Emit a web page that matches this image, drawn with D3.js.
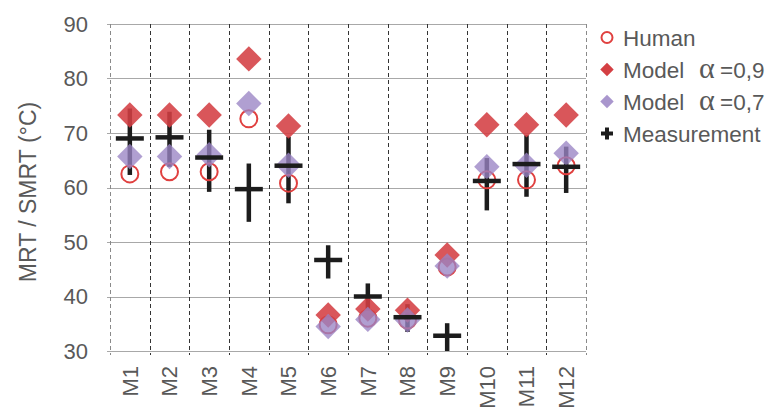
<!DOCTYPE html>
<html><head><meta charset="utf-8">
<script src="https://cdn.jsdelivr.net/npm/d3@7"></script>
<style>
html,body{margin:0;padding:0;background:#fff;}
svg{display:block;font-family:Arial,"Liberation Sans",sans-serif;}
</style></head>
<body>
<svg id="chart" width="772" height="410"></svg>
<script>
const categories = ["M1","M2","M3","M4","M5","M6","M7","M8","M9","M10","M11","M12"];
const human   = [62.5, 62.9, 62.9, 72.6, 60.8, 34.8, 36.0, 35.7, 45.4, 61.4, 61.4, 64.0];
const model09 = [73.3, 73.3, 73.3, 83.6, 71.3, 36.6, 37.7, 37.5, 47.6, 71.5, 71.5, 73.3];
const model07 = [65.7, 65.7, 66.0, 75.4, 64.1, 34.5, 35.8, 35.7, 45.6, 63.8, 64.1, 66.3];
const measMean = [69.0, 69.2, 65.5, 59.7, 64.0, 46.7, 40.0, 36.2, 32.8, 61.2, 64.3, 63.8];
const measHigh = [74.5, 73.9, 70.6, 64.4, 69.3, 49.4, 42.4, 38.6, 35.1, 65.4, 69.6, 67.5];
const measLow  = [62.3, 63.8, 59.2, 53.7, 57.1, 43.3, 37.5, 33.5, 30.0, 55.8, 58.3, 59.0];
const yTicks = [30, 40, 50, 60, 70, 80, 90];
const yTitle = "MRT / SMRT\u00A0(°C)";
const legendLabels = ["Human", "Model", "Model", "Measurement"];
const legendAlpha = [null, "=0,9", "=0,7", null];

const svg = d3.select("#chart");
const x = d3.scaleBand().domain(categories).range([110, 586]);
const y = d3.scaleLinear().domain([30, 90]).range([351, 24]);

const textCol = "#595959";
const redFill = "#d43f43", purpleFill = "#9a84c4", circCol = "#e0403f", crossCol = "#1c1c1c";

svg.append("defs").append("clipPath").attr("id","plotclip")
  .append("rect").attr("x",110).attr("y",24).attr("width",476).attr("height",327);

// horizontal gridlines
svg.append("g").selectAll("line").data(yTicks).join("line")
  .attr("x1", 107).attr("x2", 586)
  .attr("y1", d => Math.round(y(d)) + 0.5).attr("y2", d => Math.round(y(d)) + 0.5)
  .attr("stroke", "#a8a8a8").attr("stroke-width", 1);

// vertical dashed lines at category boundaries
const bounds = categories.map(c => x(c)).concat([x.range()[1]]);
svg.append("g").selectAll("line").data(bounds).join("line")
  .attr("x1", d => Math.round(d) + 0.5).attr("x2", d => Math.round(d) + 0.5)
  .attr("y1", y(90)).attr("y2", y(30) + 4)
  .attr("stroke", (d, i) => (i === 0 || i === bounds.length - 1) ? "#8a8a8a" : "#333")
  .attr("stroke-dasharray", "4,3").attr("stroke-width", 1);

// y tick labels
svg.append("g").selectAll("text").data(yTicks).join("text")
  .attr("x", 88).attr("y", d => y(d)).attr("dy", "0.36em")
  .attr("text-anchor", "end").attr("font-size", 22).attr("fill", textCol)
  .text(d => d);

// y title
svg.append("text").attr("transform", "translate(36,192) rotate(-90)")
  .attr("text-anchor", "middle").attr("font-size", 23).attr("fill", textCol)
  .text(yTitle);

// x labels
svg.append("g").selectAll("text").data(categories).join("text")
  .attr("transform", d => `translate(${x(d) + x.bandwidth() / 2},366) rotate(-90)`)
  .attr("dy", "0.36em").attr("text-anchor", "end")
  .attr("font-size", 22).attr("fill", textCol).text(d => d);

const plot = svg.append("g").attr("clip-path", "url(#plotclip)");
const cx = i => x(categories[i]) + x.bandwidth() / 2;

// measurement vertical error bars (behind)
plot.append("g").selectAll("line").data(measMean).join("line")
  .attr("x1", (d, i) => cx(i)).attr("x2", (d, i) => cx(i))
  .attr("y1", (d, i) => y(measHigh[i])).attr("y2", (d, i) => y(measLow[i]))
  .attr("stroke", crossCol).attr("stroke-width", 4.5);

// human circles
plot.append("g").selectAll("circle").data(human).join("circle")
  .attr("cx", (d, i) => cx(i)).attr("cy", d => y(d)).attr("r", 8.5)
  .attr("fill", "none").attr("stroke", circCol).attr("stroke-width", 2);

const sq = d3.symbol().type(d3.symbolSquare).size(18 * 18);
// model 0.9
plot.append("g").selectAll("path").data(model09).join("path")
  .attr("d", sq)
  .attr("transform", (d, i) => `translate(${cx(i)},${y(d)}) rotate(45)`)
  .attr("fill", redFill).attr("fill-opacity", 0.88);
// model 0.7
plot.append("g").selectAll("path").data(model07).join("path")
  .attr("d", sq)
  .attr("transform", (d, i) => `translate(${cx(i)},${y(d)}) rotate(45)`)
  .attr("fill", purpleFill).attr("fill-opacity", 0.78);

// measurement horizontal marks (front)
plot.append("g").selectAll("line").data(measMean).join("line")
  .attr("x1", (d, i) => cx(i) - 14).attr("x2", (d, i) => cx(i) + 14)
  .attr("y1", d => y(d)).attr("y2", d => y(d))
  .attr("stroke", crossCol).attr("stroke-width", 4.5);

// legend
const lg = svg.append("g");
const baseY = [45.5, 77.5, 109.5, 141.5];
const mx = 607, tx = 623;
lg.append("circle").attr("cx", mx).attr("cy", baseY[0] - 8).attr("r", 5.5)
  .attr("fill", "none").attr("stroke", circCol).attr("stroke-width", 2);
const sqs = d3.symbol().type(d3.symbolSquare).size(9.5 * 9.5);
lg.append("path").attr("d", sqs).attr("transform", `translate(${mx},${baseY[1] - 8}) rotate(45)`).attr("fill", redFill);
lg.append("path").attr("d", sqs).attr("transform", `translate(${mx},${baseY[2] - 8}) rotate(45)`).attr("fill", purpleFill).attr("fill-opacity", 0.85);
lg.append("line").attr("x1", mx - 6).attr("x2", mx + 6).attr("y1", baseY[3] - 8).attr("y2", baseY[3] - 8).attr("stroke", crossCol).attr("stroke-width", 4);
lg.append("line").attr("x1", mx).attr("x2", mx).attr("y1", baseY[3] - 14).attr("y2", baseY[3] - 2).attr("stroke", crossCol).attr("stroke-width", 4);

legendLabels.forEach((lab, i) => {
  lg.append("text").attr("x", tx).attr("y", baseY[i]).attr("font-size", 22.5).attr("fill", textCol).text(lab);
  if (legendAlpha[i]) {
    lg.append("text").attr("x", 699).attr("y", baseY[i]).attr("font-size", 30)
      .attr("font-family", "'Liberation Serif','DejaVu Serif',serif").attr("fill", textCol).text("α");
    lg.append("text").attr("x", 720).attr("y", baseY[i]).attr("font-size", 22.5).attr("fill", textCol).text(legendAlpha[i]);
  }
});
</script>
</body></html>
